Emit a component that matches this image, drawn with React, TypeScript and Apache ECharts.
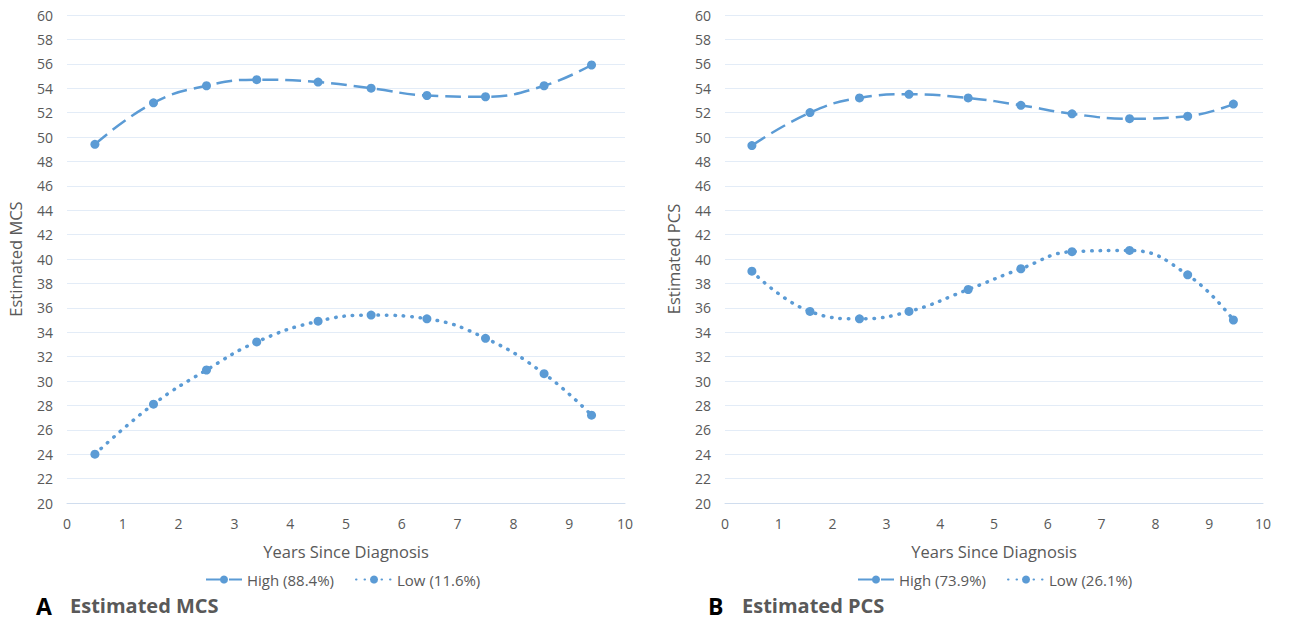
import React, { useEffect, useRef } from "react";
import * as echarts from "echarts";

const years = [0.5, 1.55, 2.5, 3.4, 4.5, 5.45, 6.45, 7.5, 8.55, 9.4];
const mcsHigh = [49.4, 52.8, 54.2, 54.7, 54.5, 54.0, 53.4, 53.3, 54.2, 55.9];
const mcsLow = [24.0, 28.1, 30.9, 33.2, 34.9, 35.4, 35.1, 33.5, 30.6, 27.2];
const pcsYears = [0.5, 1.58, 2.5, 3.42, 4.52, 5.5, 6.45, 7.52, 8.6, 9.45];
const pcsHigh = [49.3, 52.0, 53.2, 53.5, 53.2, 52.6, 51.9, 51.5, 51.7, 52.7];
const pcsLow = [39.0, 35.7, 35.1, 35.7, 37.5, 39.2, 40.6, 40.7, 38.7, 35.0];

const legendMCS = ["High (88.4%)", "Low (11.6%)"];
const legendPCS = ["High (73.9%)", "Low (26.1%)"];

const COLOR = "#5B9BD5";
const TXT = "#595959";
const FONT = "Open Sans";

export default function App() {
  const ref = useRef<HTMLDivElement>(null);
  useEffect(() => {
    document.body.style.margin = "0";
    const chart = echarts.init(ref.current!, null, { renderer: "svg" });
    const pair = (xs: number[], ys: number[]) => xs.map((x, i) => [x, ys[i]]);
    const xAxisBase = (gridIndex: number) => ({
      type: "value",
      gridIndex,
      min: 0,
      max: 10,
      interval: 1,
      name: "Years Since Diagnosis",
      nameLocation: "middle",
      nameGap: 40,
      nameTextStyle: { color: TXT, fontSize: 16.5, fontFamily: FONT },
      axisLine: { show: true, lineStyle: { color: "#D0DDEE", width: 1 } },
      axisTick: { show: false },
      axisLabel: { color: TXT, fontSize: 14, fontFamily: FONT, margin: 13 },
      splitLine: { show: false },
    });
    const yAxisBase = (gridIndex: number, name: string) => ({
      type: "value",
      gridIndex,
      min: 20,
      max: 60,
      interval: 2,
      name,
      nameLocation: "middle",
      nameGap: 43,
      nameTextStyle: { color: TXT, fontSize: 16.5, fontFamily: FONT },
      axisLine: { show: false },
      axisTick: { show: false },
      axisLabel: { color: TXT, fontSize: 14, fontFamily: FONT, margin: 14 },
      splitLine: { show: true, lineStyle: { color: "#E3ECF7", width: 1 } },
    });
    const highStyle = { color: COLOR, width: 2.5, type: [16, 7] };
    const lowStyle = { color: COLOR, width: 3.5, type: [0.5, 8], cap: "round" };
    const mk = (name: string, data: number[][], idx: number, ls: any) => ({
      name,
      type: "line",
      xAxisIndex: idx,
      yAxisIndex: idx,
      data,
      smooth: 0.45,
      symbol: "circle",
      symbolSize: 9,
      itemStyle: { color: COLOR },
      lineStyle: ls,
    });
    const legendText = { color: TXT, fontSize: 15, fontFamily: FONT };
    chart.setOption({
      animation: false,
      grid: [
        { left: 67, width: 558, top: 15, height: 488 },
        { left: 725, width: 538, top: 15, height: 488 },
      ],
      xAxis: [xAxisBase(0), xAxisBase(1)],
      yAxis: [yAxisBase(0, "Estimated MCS"), yAxisBase(1, "Estimated PCS")],
      legend: [
        {
          data: legendMCS,
          left: 200,
          top: 567,
          itemWidth: 36,
          itemHeight: 10,
          itemGap: 21,
          textStyle: legendText,
        },
        {
          data: legendPCS,
          left: 852,
          top: 567,
          itemWidth: 36,
          itemHeight: 10,
          itemGap: 21,
          textStyle: legendText,
        },
      ],
      series: [
        mk(legendMCS[0], pair(years, mcsHigh), 0, highStyle),
        mk(legendMCS[1], pair(years, mcsLow), 0, lowStyle),
        mk(legendPCS[0], pair(pcsYears, pcsHigh), 1, highStyle),
        mk(legendPCS[1], pair(pcsYears, pcsLow), 1, lowStyle),
      ],
      graphic: [
        { type: "text", left: 36, top: 594, style: { text: "A", fill: "#000", font: "bold 23px " + FONT } },
        { type: "text", left: 70, top: 595, style: { text: "Estimated MCS", fill: TXT, font: "bold 20px " + FONT } },
        { type: "text", left: 708, top: 594, style: { text: "B", fill: "#000", font: "bold 23px " + FONT } },
        { type: "text", left: 742, top: 595, style: { text: "Estimated PCS", fill: TXT, font: "bold 20px " + FONT } },
      ],
    });
    return () => chart.dispose();
  }, []);
  return <div ref={ref} style={{ width: 1290, height: 622 }} />;
}
